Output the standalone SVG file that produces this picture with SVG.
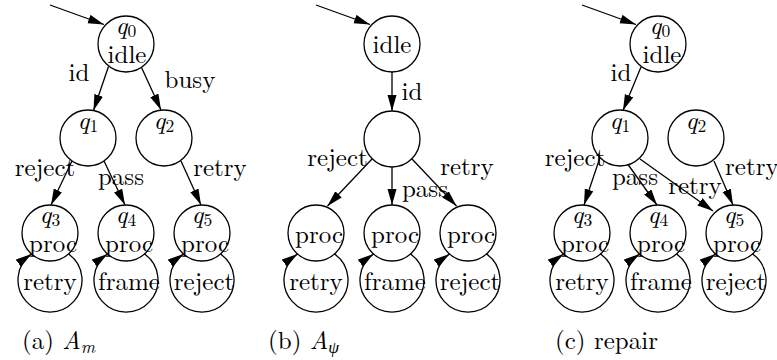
<svg xmlns="http://www.w3.org/2000/svg" width="777" height="360" viewBox="0 0 777 360">
<defs>
<marker id="ah" markerUnits="userSpaceOnUse" markerWidth="16" markerHeight="10" refX="16" refY="4.5" orient="auto">
<path d="M0,0 L16,4.5 L0,9 z" fill="#000"/>
</marker>
<style>
text{font-family:'Latin Modern Roman','Liberation Serif',serif;font-size:25px;fill:#000}
.m{text-anchor:middle}
.i{font-style:italic}
.s{font-size:17.5px}
circle{fill:none;stroke:#000;stroke-width:1.3}
#edges line,#edges path{fill:none;stroke:#000;stroke-width:1.3;marker-end:url(#ah)}
</style>
</defs>
<rect width="777" height="360" fill="#fff"/>
<g id="edges">
<line x1="50" y1="5" x2="104" y2="24.5"/>
<line x1="108.5" y1="66.5" x2="93.5" y2="110.5"/>
<line x1="141.5" y1="67.5" x2="161" y2="110"/>
<line x1="72" y1="161" x2="51" y2="205"/>
<line x1="104" y1="161" x2="125" y2="205"/>
<line x1="181" y1="161" x2="201" y2="205"/>
<path d="M68.6,254 A32 32 0 1 1 31.4,254"/>
<path d="M144.6,254 A32 32 0 1 1 107.4,254"/>
<path d="M220.6,254 A32 32 0 1 1 183.4,254"/>
<line x1="316" y1="5" x2="370" y2="24.5"/>
<line x1="392" y1="72" x2="392" y2="111"/>
<line x1="372" y1="159" x2="327.5" y2="206"/>
<line x1="392" y1="167" x2="392" y2="205"/>
<line x1="412" y1="159" x2="456.5" y2="206"/>
<path d="M334.6,254 A32 32 0 1 1 297.4,254"/>
<path d="M410.6,254 A32 32 0 1 1 373.4,254"/>
<path d="M486.6,254 A32 32 0 1 1 449.4,254"/>
<line x1="582" y1="5" x2="636" y2="24.5"/>
<line x1="641" y1="67" x2="623" y2="110.5"/>
<line x1="600" y1="157.5" x2="584" y2="205"/>
<line x1="628" y1="164.5" x2="657" y2="205"/>
<line x1="640" y1="159" x2="713" y2="211"/>
<line x1="714" y1="161" x2="733" y2="205"/>
<path d="M600.6,254 A32 32 0 1 1 563.4,254"/>
<path d="M676.6,254 A32 32 0 1 1 639.4,254"/>
<path d="M752.6,254 A32 32 0 1 1 715.4,254"/>
</g>
<g id="edge-labels">
<text class="m" x="79" y="81">id</text>
<text class="m" x="190" y="88">busy</text>
<text class="m" x="45" y="176">reject</text>
<text class="m" x="121" y="185">pass</text>
<text class="m" x="220" y="176">retry</text>
<text class="m" x="50" y="290">retry</text>
<text class="m" x="129" y="290">frame</text>
<text class="m" x="204" y="290">reject</text>
<text class="m" x="412" y="100">id</text>
<text class="m" x="337.5" y="166">reject</text>
<text class="m" x="425" y="197">pass</text>
<text class="m" x="467" y="175">retry</text>
<text class="m" x="316" y="290">retry</text>
<text class="m" x="395" y="290">frame</text>
<text class="m" x="470" y="290">reject</text>
<text class="m" x="621" y="81">id</text>
<text class="m" x="575" y="166">reject</text>
<text class="m" x="635" y="185">pass</text>
<text class="m" x="695" y="194">retry</text>
<text x="725" y="175">retry</text>
<text class="m" x="582" y="290">retry</text>
<text class="m" x="661" y="290">frame</text>
<text class="m" x="736" y="290">reject</text>
</g>
<g id="a-q0"><circle cx="126" cy="44" r="28"/><text class="m" x="126" y="34"><tspan class="i">q</tspan><tspan class="s" dy="3">0</tspan></text><text class="m" x="127" y="63">idle</text></g>
<g id="a-q1"><circle cx="88" cy="138" r="28"/><text class="m" x="88" y="129"><tspan class="i">q</tspan><tspan class="s" dy="3">1</tspan></text></g>
<g id="a-q2"><circle cx="164" cy="138" r="28"/><text class="m" x="164" y="129"><tspan class="i">q</tspan><tspan class="s" dy="3">2</tspan></text></g>
<g id="a-q3"><circle cx="50" cy="233" r="28"/><text class="m" x="50" y="223"><tspan class="i">q</tspan><tspan class="s" dy="3">3</tspan></text><text class="m" x="53" y="252">proc</text></g>
<g id="a-q4"><circle cx="126" cy="233" r="28"/><text class="m" x="126" y="223"><tspan class="i">q</tspan><tspan class="s" dy="3">4</tspan></text><text class="m" x="129" y="252">proc</text></g>
<g id="a-q5"><circle cx="202" cy="233" r="28"/><text class="m" x="202" y="223"><tspan class="i">q</tspan><tspan class="s" dy="3">5</tspan></text><text class="m" x="205" y="252">proc</text></g>
<g id="b-idle"><circle cx="392" cy="44" r="28"/><text class="m" x="392" y="53">idle</text></g>
<g id="b-mid"><circle cx="392" cy="139" r="28"/></g>
<g id="b-p1"><circle cx="316" cy="233" r="28"/><text class="m" x="319" y="243">proc</text></g>
<g id="b-p2"><circle cx="392" cy="233" r="28"/><text class="m" x="395" y="243">proc</text></g>
<g id="b-p3"><circle cx="468" cy="233" r="28"/><text class="m" x="471" y="243">proc</text></g>
<g id="c-q0"><circle cx="658" cy="44" r="28"/><text class="m" x="660" y="34"><tspan class="i">q</tspan><tspan class="s" dy="3">0</tspan></text><text class="m" x="662" y="63">idle</text></g>
<g id="c-q1"><circle cx="620" cy="138" r="28"/><text class="m" x="620" y="129"><tspan class="i">q</tspan><tspan class="s" dy="3">1</tspan></text></g>
<g id="c-q2"><circle cx="696" cy="138" r="28"/><text class="m" x="696" y="129"><tspan class="i">q</tspan><tspan class="s" dy="3">2</tspan></text></g>
<g id="c-q3"><circle cx="582" cy="233" r="28"/><text class="m" x="582" y="223"><tspan class="i">q</tspan><tspan class="s" dy="3">3</tspan></text><text class="m" x="585" y="252">proc</text></g>
<g id="c-q4"><circle cx="658" cy="233" r="28"/><text class="m" x="658" y="223"><tspan class="i">q</tspan><tspan class="s" dy="3">4</tspan></text><text class="m" x="661" y="252">proc</text></g>
<g id="c-q5"><circle cx="734" cy="233" r="28"/><text class="m" x="734" y="223"><tspan class="i">q</tspan><tspan class="s" dy="3">5</tspan></text><text class="m" x="737" y="252">proc</text></g>
<g id="captions">
<text x="22" y="349">(a) <tspan class="i">A</tspan><tspan class="i s" dy="4">m</tspan></text>
<text x="268" y="349">(b) <tspan class="i">A</tspan><tspan class="i s" dy="4">ψ</tspan></text>
<text x="555" y="349">(c) repair</text>
</g>
</svg>
